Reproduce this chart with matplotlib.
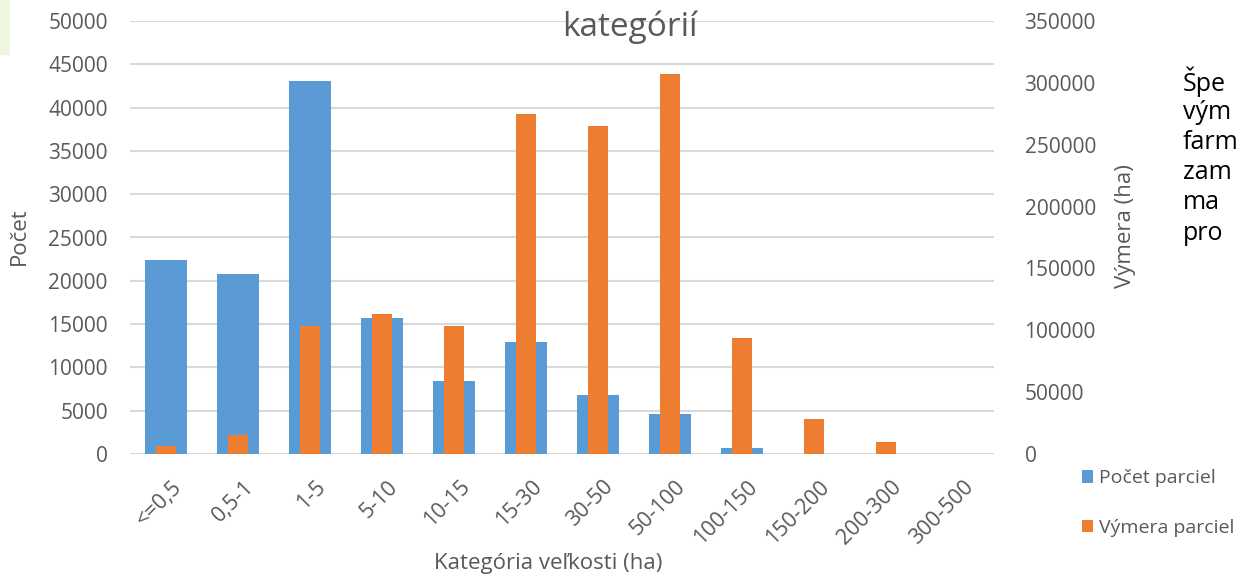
import numpy as np
import matplotlib as mpl
mpl.use('Agg')
import matplotlib.pyplot as plt
from matplotlib.patches import Rectangle
import matplotlib.transforms as mtransforms

# data
categories = ['<=0,5', '0,5-1', '1-5', '5-10', '10-15', '15-30', '30-50',
              '50-100', '100-150', '150-200', '200-300', '300-500']
pocet = [22400, 20800, 43100, 15700, 8400, 12900, 6800, 4600, 650, 10, 5, 1]
vymera = [6500, 15400, 103700, 113200, 103600, 274600, 265400, 307000,
          93500, 28500, 9900, 200]
left_ticks = list(range(0, 50001, 5000))
right_ticks = list(range(0, 350001, 50000))
side_text = ['Špe', 'vým', 'farm', 'zam', 'ma', 'pro']

plt.rcParams['font.family'] = ['Open Sans', 'DejaVu Sans']
gray = '#595959'
blue = '#5b9bd5'
orange = '#ed7d31'
W, H = 1242, 578

fig = plt.figure(figsize=(W/100, H/100), dpi=100)
# small green strip in the top left corner
fig.patches.append(Rectangle((0, 1-54/H), 9/W, 54/H, transform=fig.transFigure,
                             color='#eef6e2', zorder=0))

ax = fig.add_axes([130/W, 1-454/H, 864/W, 433/H])
ax2 = ax.twinx()
x = np.arange(len(categories))
b1 = ax.bar(x, pocet, width=0.57, color=blue, label='Počet parciel', zorder=2)
b2 = ax2.bar(x, vymera, width=0.29, color=orange, label='Výmera parciel', zorder=2)

ax.set_xlim(-0.5, len(categories)-0.5)
ax.set_ylim(0, 50000)
ax2.set_ylim(0, 350000)
ax.set_yticks(left_ticks)
ax2.set_yticks(right_ticks)
ax.yaxis.grid(True, color='#d9d9d9', linewidth=1.5)
ax.set_axisbelow(True)
for a in (ax, ax2):
    for s in a.spines.values():
        s.set_visible(False)
    a.tick_params(length=0, labelsize=15, labelcolor=gray)
ax.tick_params(axis='y', pad=16)
ax2.tick_params(axis='y', pad=22)

ax.set_xticks(x)
ax.set_xticklabels(categories, rotation=45, ha='right', rotation_mode='anchor')
ax.tick_params(axis='x', pad=16, labelsize=15.5)
offset = mtransforms.ScaledTranslation(5/100, 0, fig.dpi_scale_trans)
for lbl in ax.get_xticklabels():
    lbl.set_transform(lbl.get_transform() + offset)

# axis titles and chart title
fig.text(19/W, 1-236/H, 'Počet', rotation=90, ha='center', va='center', fontsize=16, color=gray)
fig.text(1126/W, 1-226/H, 'Výmera (ha)', rotation=90, ha='center', va='center', fontsize=16, color=gray)
fig.text(548/W, 1-563/H, 'Kategória veľkosti (ha)', ha='center', va='center', fontsize=16, color=gray)
fig.text(630/W, 1-27/H, 'kategórií', ha='center', va='center', fontsize=24, color=gray)

fig.legend(handles=[b1, b2], loc='center left', bbox_to_anchor=(1072/W, 1-503/H),
           frameon=False, fontsize=14, labelcolor=gray, handlelength=0.6,
           handleheight=0.6, handletextpad=0.3, labelspacing=1.6, borderpad=0)

# text on the right edge
for i, s in enumerate(side_text):
    fig.text(1183/W, 1-(82+30.2*i)/H, s, fontsize=18, color='black', va='center')

fig.savefig('out.png', dpi=100)
